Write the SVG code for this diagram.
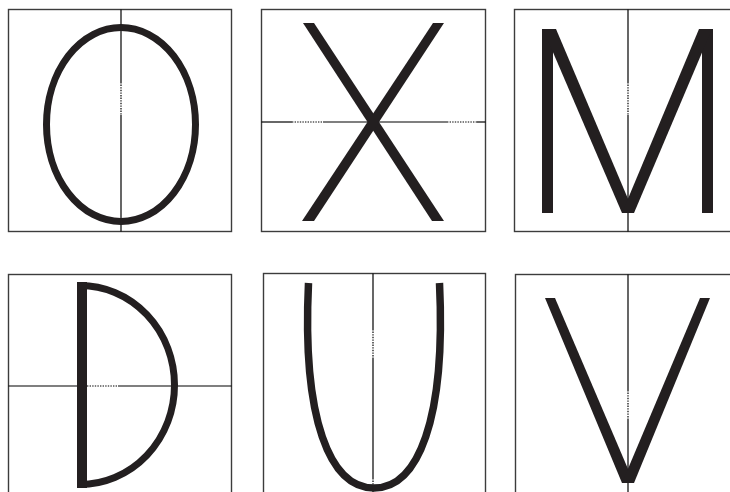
<svg xmlns="http://www.w3.org/2000/svg" width="730" height="492" viewBox="0 0 730 492">
<style>
.box{fill:none;stroke:#3c3c3c;stroke-width:1.4}
.ax{stroke:#000;stroke-width:1.2;fill:none}
.dot{stroke:#000;stroke-width:1.2;fill:none;stroke-dasharray:1.4 1.2}
.g{fill:#231f20}
.gs{fill:none;stroke:#231f20}
</style>
<rect width="730" height="492" fill="#fff"/>
<g id="panel-O">
<rect class="box" x="8.5" y="9.5" width="223" height="222"/>
<line class="ax" x1="121" y1="9.5" x2="121" y2="82"/>
<line class="dot" x1="121" y1="82" x2="121" y2="115"/>
<line class="ax" x1="121" y1="115" x2="121" y2="231.5"/>
<ellipse class="gs" cx="121" cy="124.5" rx="74.5" ry="97" stroke-width="7"/>
</g>
<g id="panel-X">
<rect class="box" x="261.5" y="9.5" width="224" height="222"/>
<line class="ax" x1="261.5" y1="122" x2="292" y2="122"/>
<line class="dot" x1="292" y1="122" x2="323" y2="122"/>
<line class="ax" x1="323" y1="122" x2="447" y2="122"/>
<line class="dot" x1="447" y1="122" x2="477" y2="122"/>
<line class="ax" x1="477" y1="122" x2="485.5" y2="122"/>
<polygon class="g" points="303,23 314,23 444,221 432,221"/>
<polygon class="g" points="433,23 444,23 314,221 302,221"/>
</g>
<g id="panel-M">
<rect class="box" x="514.5" y="9.5" width="220" height="222"/>
<line class="ax" x1="628" y1="9.5" x2="628" y2="82"/>
<line class="dot" x1="628" y1="82" x2="628" y2="115"/>
<line class="ax" x1="628" y1="115" x2="628" y2="231.5"/>
<rect class="g" x="542" y="29" width="11" height="184"/>
<rect class="g" x="702" y="29" width="11" height="184"/>
<polygon class="g" points="543,29 556,29 634,213 622,213"/>
<polygon class="g" points="699,29 712,29 634,213 622,213"/>
</g>
<g id="panel-D">
<rect class="box" x="8.5" y="274.5" width="223" height="230"/>
<line class="ax" x1="8.5" y1="386" x2="87" y2="386"/>
<line class="dot" x1="87" y1="386" x2="118" y2="386"/>
<line class="ax" x1="118" y1="386" x2="231.5" y2="386"/>
<rect class="g" x="77" y="282" width="10" height="206"/>
<path class="gs" d="M80,285.5 A94.5 99.5 0 0 1 80,484.5" stroke-width="7"/>
</g>
<g id="panel-U">
<rect class="box" x="263.5" y="273.5" width="222" height="230"/>
<line class="ax" x1="373" y1="273.5" x2="373" y2="329"/>
<line class="dot" x1="373" y1="329" x2="373" y2="358"/>
<line class="ax" x1="373" y1="358" x2="373" y2="478"/>
<line class="dot" x1="373" y1="478" x2="373" y2="492"/>
<path class="gs" d="M308.5,283 C302,420 330,488 374,488 C418,488 446,420 439.5,283" stroke-width="7.5"/>
</g>
<g id="panel-V">
<rect class="box" x="515.5" y="274.5" width="220" height="230"/>
<line class="ax" x1="628" y1="274.5" x2="628" y2="390"/>
<line class="dot" x1="628" y1="390" x2="628" y2="419"/>
<line class="ax" x1="628" y1="419" x2="628" y2="492"/>
<polygon class="g" points="545,298 555,298 634,483 622,483"/>
<polygon class="g" points="700,298 710,298 634,483 622,483"/>
</g>
</svg>
